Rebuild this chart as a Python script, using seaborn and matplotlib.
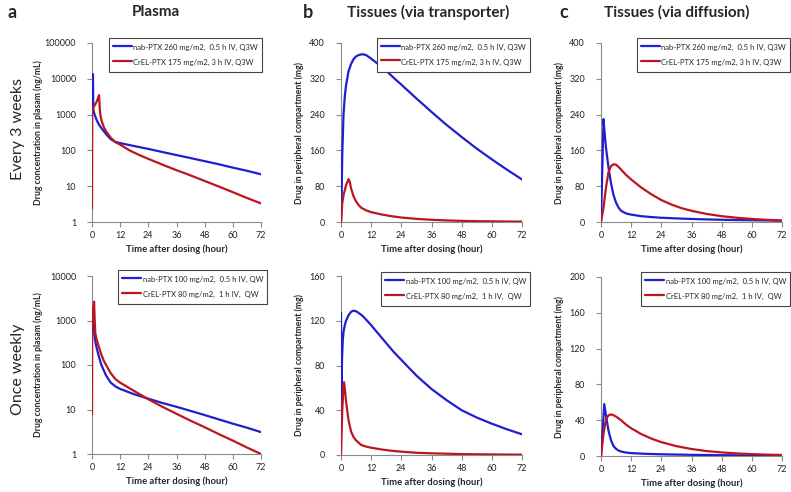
import numpy as np
import pandas as pd
import matplotlib
matplotlib.use("Agg")
import matplotlib.pyplot as plt
import seaborn as sns

# ---- data (hours vs. concentration / amount) ----
# plasma, every 3 weeks (ng/mL)
t_p3_nab = [0, 0.4, 0.55, 1, 2, 3, 4, 6, 8, 10, 12, 18, 24, 30, 36, 42, 48, 54, 60, 66, 72]
c_p3_nab = [1300, 13500, 1400, 1050, 700, 520, 420, 285, 205, 172, 160, 132, 110, 90, 74, 61, 50, 41, 33, 27, 21.5]
t_p3_crel = [0, 0.1, 0.5, 1, 1.5, 2, 2.5, 3, 3.3, 3.6, 4, 5, 6, 8, 10, 12, 16, 20, 24, 30, 36, 42, 48, 54, 60, 66, 72]
c_p3_crel = [2.4, 1400, 1550, 1750, 2000, 2300, 2800, 3500, 1500, 950, 700, 450, 340, 225, 170, 145, 100, 75, 58, 40, 28, 20, 14, 9.8, 6.8, 4.7, 3.3]

# tissues via transporter, every 3 weeks (mg)
t_t3_nab = [0, 0.2, 0.5, 1, 1.5, 2, 3, 4, 5, 6, 7, 8.5, 10, 12, 15, 18, 21, 24, 30, 36, 42, 48, 54, 60, 66, 72]
c_t3_nab = [0, 40, 150, 240, 280, 305, 337, 353, 364, 370, 373, 375, 373, 365, 352, 338, 322, 307, 276, 246, 217, 190, 164, 140, 117, 95]
t_t3_crel = [0, 0.5, 1, 2, 3, 3.5, 4, 5, 6, 7, 8, 10, 12, 16, 20, 24, 30, 36, 42, 48, 54, 60, 66, 72]
c_t3_crel = [0, 42, 60, 82, 96, 90, 75, 57, 46, 38, 32, 26, 22, 17, 13, 10, 7, 5, 3.5, 2.5, 1.8, 1.4, 1.1, 0.9]

# tissues via diffusion, every 3 weeks (mg)
t_d3_nab = [0, 1, 1.5, 2, 3, 4, 5, 6, 7, 8, 10, 12, 16, 20, 24, 30, 36, 42, 48, 54, 60, 66, 72]
c_d3_nab = [0, 230, 195, 165, 121, 86, 60, 43, 32, 25, 19, 16.5, 13, 11, 9.5, 8, 6.8, 5.8, 5, 4.4, 3.9, 3.4, 3.0]
t_d3_crel = [0, 1, 2, 3, 4, 5, 6, 7, 8, 10, 12, 16, 20, 24, 28, 32, 36, 42, 48, 54, 60, 66, 72]
c_d3_crel = [0, 32, 78, 112, 125, 129, 128, 123, 117, 105, 95, 77, 62, 49, 39, 31, 25, 18, 13, 9.5, 6.8, 4.8, 3.3]

# plasma, once weekly (ng/mL)
t_p1_nab = [0, 0.5, 0.8, 1.2, 1.6, 2, 3, 4, 5, 6, 8, 10, 12, 18, 24, 30, 36, 42, 48, 54, 60, 66, 72]
c_p1_nab = [1500, 2000, 600, 400, 300, 240, 150, 100, 76, 58, 40, 33, 29, 22, 17.5, 14, 11.5, 9.3, 7.5, 6, 4.8, 3.9, 3.1]
t_p1_crel = [0, 0.1, 0.5, 0.9, 1.1, 1.4, 2, 3, 4, 5, 6, 8, 10, 12, 18, 24, 30, 36, 42, 48, 54, 60, 66, 72]
c_p1_crel = [7.8, 1300, 1900, 2650, 1200, 520, 370, 250, 170, 125, 100, 65, 48, 40, 26, 17, 11.5, 8, 5.6, 4, 2.8, 2.0, 1.4, 1.0]

# tissues via transporter, once weekly (mg)
t_t1_nab = [0, 0.15, 0.4, 0.7, 1, 1.5, 2, 3, 4, 5, 6, 7, 8.5, 10, 12, 15, 18, 21, 24, 30, 36, 42, 48, 54, 60, 66, 72]
c_t1_nab = [127, 40, 85, 102, 110, 116, 120, 125, 128, 129, 128.5, 127, 124.5, 121, 116, 108, 100, 92, 85, 71, 59, 49, 40, 33.5, 28, 23, 18.5]
t_t1_crel = [0, 0.5, 1, 1.2, 1.5, 2, 3, 4, 5, 6, 8, 10, 12, 16, 20, 24, 30, 36, 48, 60, 72]
c_t1_crel = [0, 40, 62, 65, 60, 48, 31, 21, 16, 13, 9, 7.5, 6.5, 5, 3.8, 3, 2, 1.5, 0.8, 0.5, 0.3]

# tissues via diffusion, once weekly (mg)
t_d1_nab = [0, 1.3, 2, 2.5, 3, 4, 5, 6, 7, 8, 10, 12, 18, 24, 36, 48, 60, 72]
c_d1_nab = [0, 58, 45, 36.5, 28, 17.5, 11, 8, 6, 5, 3.8, 3.2, 2.4, 1.9, 1.3, 0.9, 0.6, 0.4]
t_d1_crel = [0, 1, 2, 3, 4, 5, 6, 8, 10, 12, 16, 20, 24, 30, 36, 42, 48, 54, 60, 66, 72]
c_d1_crel = [0, 25, 41, 45.5, 46.5, 45.5, 44, 40, 35, 31, 24.5, 19.5, 15.5, 11, 7.8, 5.5, 4, 2.9, 2.1, 1.5, 1.1]

lab_nab_q3w = "nab-PTX 260 mg/m2,  0.5 h IV, Q3W"
lab_crel_q3w = "CrEL-PTX 175 mg/m2, 3 h IV, Q3W"
lab_nab_qw = "nab-PTX 100 mg/m2,  0.5 h IV, QW"
lab_crel_qw = "CrEL-PTX 80 mg/m2,  1 h IV,  QW"

x_ticks = [0, 12, 24, 36, 48, 60, 72]
blue = "#1f1fd0"
red = "#bb161f"

sns.set_theme(style="ticks")
plt.rcParams['font.family'] = ['Lato', 'DejaVu Sans']

fig = plt.figure(figsize=(7.91, 4.92), dpi=100)

# axes boxes in figure pixels (left, right, top, bottom)
boxes = {
    (0, 0): (92, 261, 43, 222), (0, 1): (341, 522, 43, 222), (0, 2): (601, 782, 43, 222),
    (1, 0): (92, 261, 276, 454), (1, 1): (341, 522, 276, 455), (1, 2): (601, 782, 277, 456),
}
W, H = 791, 492

panels = {
    (0, 0): (t_p3_nab, c_p3_nab, t_p3_crel, c_p3_crel, lab_nab_q3w, lab_crel_q3w),
    (0, 1): (t_t3_nab, c_t3_nab, t_t3_crel, c_t3_crel, lab_nab_q3w, lab_crel_q3w),
    (0, 2): (t_d3_nab, c_d3_nab, t_d3_crel, c_d3_crel, lab_nab_q3w, lab_crel_q3w),
    (1, 0): (t_p1_nab, c_p1_nab, t_p1_crel, c_p1_crel, lab_nab_qw, lab_crel_qw),
    (1, 1): (t_t1_nab, c_t1_nab, t_t1_crel, c_t1_crel, lab_nab_qw, lab_crel_qw),
    (1, 2): (t_d1_nab, c_d1_nab, t_d1_crel, c_d1_crel, lab_nab_qw, lab_crel_qw),
}

ylims = {(0, 0): (1, 100000), (0, 1): (0, 400), (0, 2): (0, 400),
         (1, 0): (1, 10000), (1, 1): (0, 160), (1, 2): (0, 200)}
yticks = {(0, 0): [1, 10, 100, 1000, 10000, 100000], (0, 1): [0, 80, 160, 240, 320, 400],
          (0, 2): [0, 80, 160, 240, 320, 400], (1, 0): [1, 10, 100, 1000, 10000],
          (1, 1): [0, 40, 80, 120, 160], (1, 2): [0, 40, 80, 120, 160, 200]}
leg_anchor = {(0, 0): (1.006, 1.028), (0, 1): (1.044, 1.03), (0, 2): (1.044, 1.028),
              (1, 0): (1.036, 1.034), (1, 1): (1.044, 1.022), (1, 2): (1.044, 1.028)}
ylab_plasma = "Drug concentration in plasam (ng/mL)"
ylab_tissue = "Drug in peripheral compartment (mg)"

for key, (tn, cn, tc, cc, ln, lc) in panels.items():
    l, r, t, b = boxes[key]
    ax = fig.add_axes([l / W, 1 - b / H, (r - l) / W, (b - t) / H])
    sns.lineplot(x=tn, y=cn, ax=ax, color=blue, lw=1.6, label=ln, estimator=None, zorder=3)
    sns.lineplot(x=tc, y=cc, ax=ax, color=red, lw=1.6, label=lc, estimator=None, zorder=3)
    if key[1] == 0:
        ax.set_yscale("log")
        ax.minorticks_off()
        ax.set_ylabel(ylab_plasma, fontsize=6.2, fontweight="bold")
        ax.yaxis.set_label_coords(-0.29, 0.5)
    else:
        ax.set_ylabel(ylab_tissue, fontsize=6.2, fontweight="bold")
        ax.yaxis.set_label_coords(-0.205, 0.5)
    ax.set_xlim(0, 72)
    ax.set_ylim(*ylims[key])
    ax.set_xticks(x_ticks)
    ax.set_xticklabels([str(v) for v in x_ticks])
    ax.set_yticks(yticks[key])
    ax.set_yticklabels([str(v) for v in yticks[key]])
    ax.set_xlabel("Time after dosing (hour)", fontsize=6.8, fontweight="bold", labelpad=3)
    sns.despine(ax=ax)
    for s in ("left", "bottom"):
        ax.spines[s].set_color("#8a8a8a")
        ax.spines[s].set_linewidth(0.8)
    ax.tick_params(axis="both", length=3.5, width=0.8, color="#8a8a8a", labelsize=6.5, labelcolor="#222222")
    ax.tick_params(axis="y", pad=8)
    ax.tick_params(axis="x", pad=3)
    leg = ax.legend(loc="upper right", bbox_to_anchor=leg_anchor[key], fontsize=5.5, frameon=True,
                    fancybox=False, edgecolor="#444444", handlelength=2.5, handleheight=2.0,
                    handletextpad=0.2, borderpad=0.5, labelspacing=0.4, borderaxespad=0)
    leg.get_frame().set_linewidth(0.8)
    leg.get_frame().set_alpha(1)
    leg.set_zorder(5)

# panel letters and titles
fig.text(12 / W, 1 - 12 / H, "a", fontsize=13, fontweight="bold", ha="center", va="center")
fig.text(156 / W, 1 - 12 / H, "Plasma", fontsize=11, fontweight="bold", ha="center", va="center")
fig.text(308 / W, 1 - 12 / H, "b", fontsize=13, fontweight="bold", ha="center", va="center")
fig.text(428 / W, 1 - 12 / H, "Tissues (via transporter)", fontsize=11, fontweight="bold", ha="center", va="center")
fig.text(564 / W, 1 - 12 / H, "c", fontsize=13, fontweight="bold", ha="center", va="center")
fig.text(677 / W, 1 - 12 / H, "Tissues (via diffusion)", fontsize=11, fontweight="bold", ha="center", va="center")

# row labels
fig.text(18 / W, 1 - 129 / H, "Every 3 weeks", fontsize=11.5, rotation=90, ha="center", va="center")
fig.text(18 / W, 1 - 369 / H, "Once weekly", fontsize=11.5, rotation=90, ha="center", va="center")

fig.savefig("out.png", dpi=100)
